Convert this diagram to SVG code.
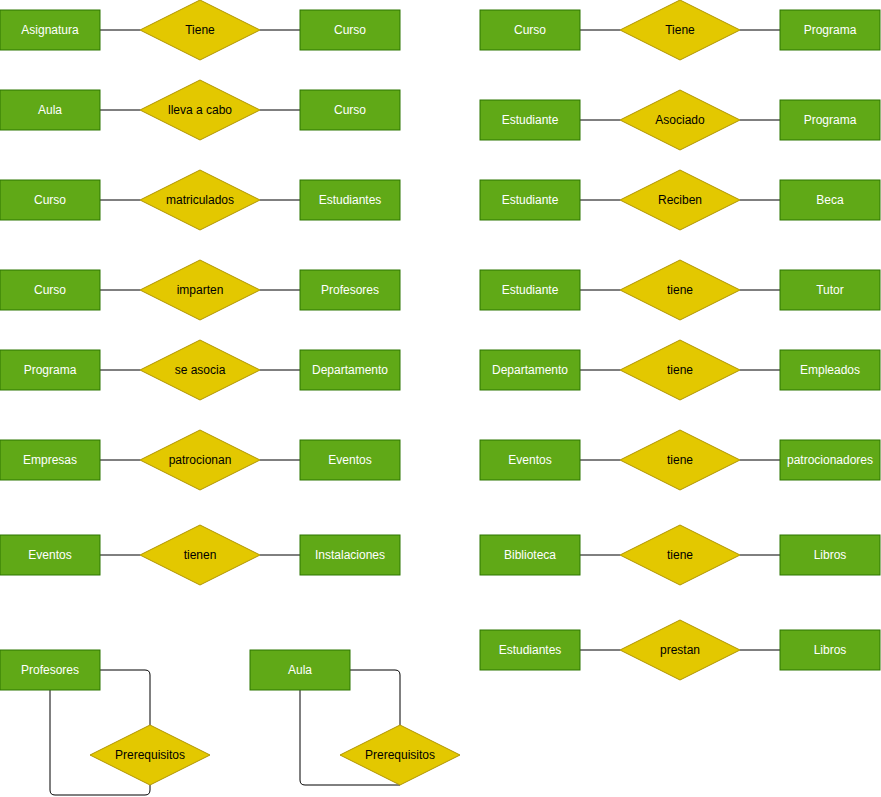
<svg xmlns="http://www.w3.org/2000/svg" width="881" height="797" viewBox="0 0 881 797">
<style>
.e rect{fill:#60a917;stroke:#2d7600;stroke-width:1}
.e text{fill:#ffffff;font-family:"Liberation Sans",Arial,sans-serif;font-size:12px;text-anchor:middle;dominant-baseline:central}
.r path{fill:#e3c800;stroke:#b09500;stroke-width:1}
.r text{fill:#000000;font-family:"Liberation Sans",Arial,sans-serif;font-size:12px;text-anchor:middle;dominant-baseline:central}
.c path{fill:none;stroke:#000000;stroke-width:1}
</style>
<rect width="881" height="797" fill="#ffffff"/>
<g class="c" id="connectors">
<path d="M100 30H140M260 30H300"/>
<path d="M100 110H140M260 110H300"/>
<path d="M100 200H140M260 200H300"/>
<path d="M100 290H140M260 290H300"/>
<path d="M100 370H140M260 370H300"/>
<path d="M100 460H140M260 460H300"/>
<path d="M100 555H140M260 555H300"/>
<path d="M580 30H620M740 30H780"/>
<path d="M580 120H620M740 120H780"/>
<path d="M580 200H620M740 200H780"/>
<path d="M580 290H620M740 290H780"/>
<path d="M580 370H620M740 370H780"/>
<path d="M580 460H620M740 460H780"/>
<path d="M580 555H620M740 555H780"/>
<path d="M580 650H620M740 650H780"/>
<path d="M100 670H145Q150 670 150 675V725"/>
<path d="M50 690V790Q50 795 55 795H145Q150 795 150 790V785"/>
<path d="M350 670H395Q400 670 400 675V725"/>
<path d="M300 690V780Q300 785 305 785H400"/>
</g>
<g class="e" id="n1"><rect x="0" y="10" width="100" height="40"/><text x="50" y="30">Asignatura</text></g>
<g class="r" id="n2"><path d="M200 0L260 30L200 60L140 30Z"/><text x="200" y="30">Tiene</text></g>
<g class="e" id="n3"><rect x="300" y="10" width="100" height="40"/><text x="350" y="30">Curso</text></g>
<g class="e" id="n4"><rect x="0" y="90" width="100" height="40"/><text x="50" y="110">Aula</text></g>
<g class="r" id="n5"><path d="M200 80L260 110L200 140L140 110Z"/><text x="200" y="110">lleva a cabo</text></g>
<g class="e" id="n6"><rect x="300" y="90" width="100" height="40"/><text x="350" y="110">Curso</text></g>
<g class="e" id="n7"><rect x="0" y="180" width="100" height="40"/><text x="50" y="200">Curso</text></g>
<g class="r" id="n8"><path d="M200 170L260 200L200 230L140 200Z"/><text x="200" y="200">matriculados</text></g>
<g class="e" id="n9"><rect x="300" y="180" width="100" height="40"/><text x="350" y="200">Estudiantes</text></g>
<g class="e" id="n10"><rect x="0" y="270" width="100" height="40"/><text x="50" y="290">Curso</text></g>
<g class="r" id="n11"><path d="M200 260L260 290L200 320L140 290Z"/><text x="200" y="290">imparten</text></g>
<g class="e" id="n12"><rect x="300" y="270" width="100" height="40"/><text x="350" y="290">Profesores</text></g>
<g class="e" id="n13"><rect x="0" y="350" width="100" height="40"/><text x="50" y="370">Programa</text></g>
<g class="r" id="n14"><path d="M200 340L260 370L200 400L140 370Z"/><text x="200" y="370">se asocia</text></g>
<g class="e" id="n15"><rect x="300" y="350" width="100" height="40"/><text x="350" y="370">Departamento</text></g>
<g class="e" id="n16"><rect x="0" y="440" width="100" height="40"/><text x="50" y="460">Empresas</text></g>
<g class="r" id="n17"><path d="M200 430L260 460L200 490L140 460Z"/><text x="200" y="460">patrocionan</text></g>
<g class="e" id="n18"><rect x="300" y="440" width="100" height="40"/><text x="350" y="460">Eventos</text></g>
<g class="e" id="n19"><rect x="0" y="535" width="100" height="40"/><text x="50" y="555">Eventos</text></g>
<g class="r" id="n20"><path d="M200 525L260 555L200 585L140 555Z"/><text x="200" y="555">tienen</text></g>
<g class="e" id="n21"><rect x="300" y="535" width="100" height="40"/><text x="350" y="555">Instalaciones</text></g>
<g class="e" id="n22"><rect x="480" y="10" width="100" height="40"/><text x="530" y="30">Curso</text></g>
<g class="r" id="n23"><path d="M680 0L740 30L680 60L620 30Z"/><text x="680" y="30">Tiene</text></g>
<g class="e" id="n24"><rect x="780" y="10" width="100" height="40"/><text x="830" y="30">Programa</text></g>
<g class="e" id="n25"><rect x="480" y="100" width="100" height="40"/><text x="530" y="120">Estudiante</text></g>
<g class="r" id="n26"><path d="M680 90L740 120L680 150L620 120Z"/><text x="680" y="120">Asociado</text></g>
<g class="e" id="n27"><rect x="780" y="100" width="100" height="40"/><text x="830" y="120">Programa</text></g>
<g class="e" id="n28"><rect x="480" y="180" width="100" height="40"/><text x="530" y="200">Estudiante</text></g>
<g class="r" id="n29"><path d="M680 170L740 200L680 230L620 200Z"/><text x="680" y="200">Reciben</text></g>
<g class="e" id="n30"><rect x="780" y="180" width="100" height="40"/><text x="830" y="200">Beca</text></g>
<g class="e" id="n31"><rect x="480" y="270" width="100" height="40"/><text x="530" y="290">Estudiante</text></g>
<g class="r" id="n32"><path d="M680 260L740 290L680 320L620 290Z"/><text x="680" y="290">tiene</text></g>
<g class="e" id="n33"><rect x="780" y="270" width="100" height="40"/><text x="830" y="290">Tutor</text></g>
<g class="e" id="n34"><rect x="480" y="350" width="100" height="40"/><text x="530" y="370">Departamento</text></g>
<g class="r" id="n35"><path d="M680 340L740 370L680 400L620 370Z"/><text x="680" y="370">tiene</text></g>
<g class="e" id="n36"><rect x="780" y="350" width="100" height="40"/><text x="830" y="370">Empleados</text></g>
<g class="e" id="n37"><rect x="480" y="440" width="100" height="40"/><text x="530" y="460">Eventos</text></g>
<g class="r" id="n38"><path d="M680 430L740 460L680 490L620 460Z"/><text x="680" y="460">tiene</text></g>
<g class="e" id="n39"><rect x="780" y="440" width="100" height="40"/><text x="830" y="460">patrocionadores</text></g>
<g class="e" id="n40"><rect x="480" y="535" width="100" height="40"/><text x="530" y="555">Biblioteca</text></g>
<g class="r" id="n41"><path d="M680 525L740 555L680 585L620 555Z"/><text x="680" y="555">tiene</text></g>
<g class="e" id="n42"><rect x="780" y="535" width="100" height="40"/><text x="830" y="555">Libros</text></g>
<g class="e" id="n43"><rect x="480" y="630" width="100" height="40"/><text x="530" y="650">Estudiantes</text></g>
<g class="r" id="n44"><path d="M680 620L740 650L680 680L620 650Z"/><text x="680" y="650">prestan</text></g>
<g class="e" id="n45"><rect x="780" y="630" width="100" height="40"/><text x="830" y="650">Libros</text></g>
<g class="e" id="n46"><rect x="0" y="650" width="100" height="40"/><text x="50" y="670">Profesores</text></g>
<g class="r" id="n47"><path d="M150 725L210 755L150 785L90 755Z"/><text x="150" y="755">Prerequisitos</text></g>
<g class="e" id="n48"><rect x="250" y="650" width="100" height="40"/><text x="300" y="670">Aula</text></g>
<g class="r" id="n49"><path d="M400 725L460 755L400 785L340 755Z"/><text x="400" y="755">Prerequisitos</text></g>
</svg>
